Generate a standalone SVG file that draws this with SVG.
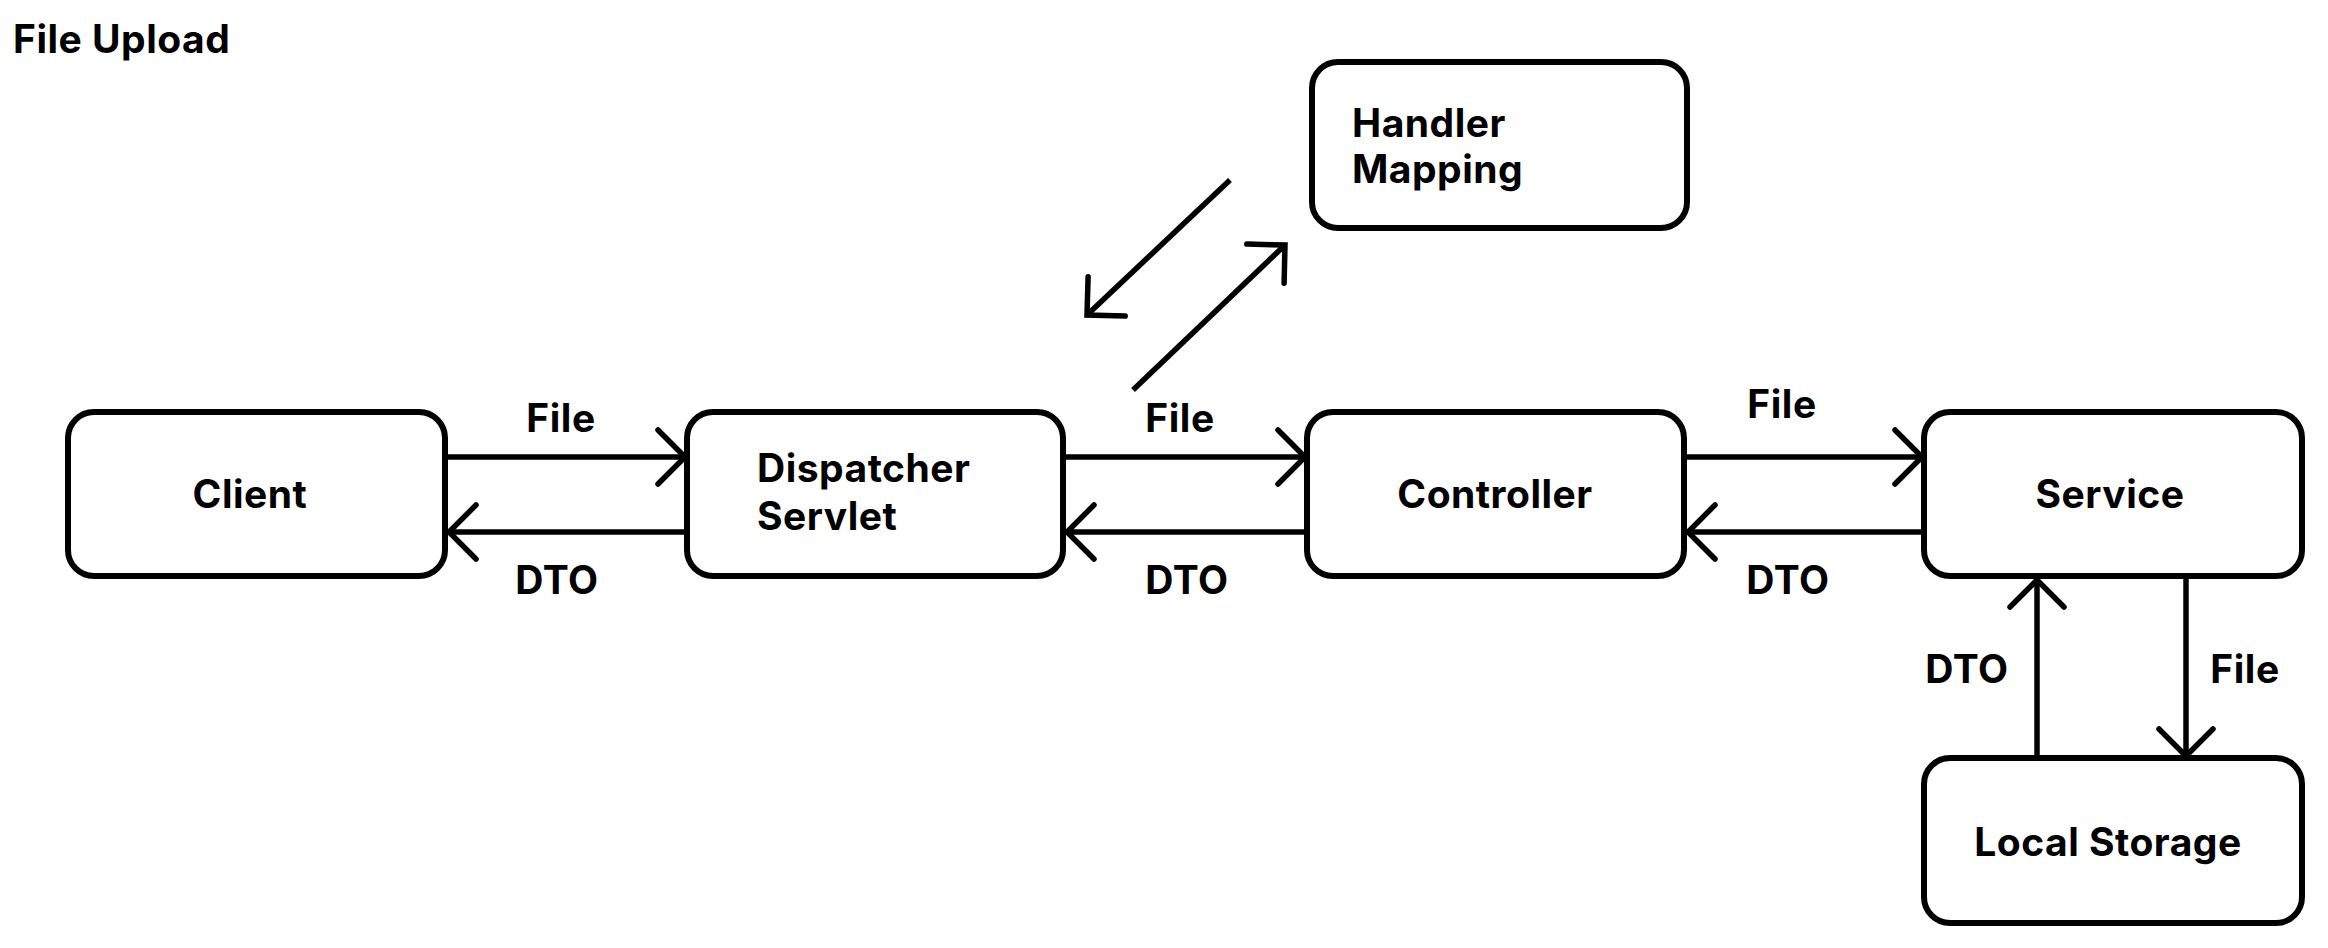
<svg xmlns="http://www.w3.org/2000/svg" width="2328" height="948" viewBox="0 0 2328 948">
  <style>
    .box { fill: #fff; stroke: #000; stroke-width: 6; }
    .lbl { font-family: Inter, "Liberation Sans", sans-serif; font-weight: 700; font-size: 39px; letter-spacing: 0.5px; fill: #000; }
    .mid { text-anchor: middle; }
    .edge { fill: none; stroke: #000; stroke-width: 5.5; marker-end: url(#chev); }
  </style>
  <defs>
    <marker id="chev" markerUnits="userSpaceOnUse" viewBox="-34 -34 40 68" markerWidth="40" markerHeight="68" refX="0" refY="0" orient="auto" overflow="visible">
      <path d="M-27,-27 L0,0 L-27,27" fill="none" stroke="#000" stroke-width="5.5" stroke-linecap="round" stroke-linejoin="miter"/>
    </marker>
  </defs>

  <rect width="2328" height="948" fill="#fff"/>

  <text class="lbl" x="13" y="53">File Upload</text>

  <g id="client">
    <rect class="box" x="68" y="412" width="377" height="164" rx="26"/>
    <text class="lbl mid" x="250" y="508">Client</text>
  </g>

  <g id="dispatcher-servlet">
    <rect class="box" x="687" y="412" width="376" height="164" rx="26"/>
    <text class="lbl" x="757" y="482">Dispatcher</text>
    <text class="lbl" x="757" y="530">Servlet</text>
  </g>

  <g id="handler-mapping">
    <rect class="box" x="1312" y="62" width="375" height="166" rx="26"/>
    <text class="lbl" x="1352" y="137">Handler</text>
    <text class="lbl" x="1352" y="183">Mapping</text>
  </g>

  <g id="controller">
    <rect class="box" x="1307" y="412" width="377" height="164" rx="26"/>
    <text class="lbl mid" x="1495" y="508">Controller</text>
  </g>

  <g id="service">
    <rect class="box" x="1924" y="412" width="378" height="164" rx="26"/>
    <text class="lbl mid" x="2110" y="508">Service</text>
  </g>

  <g id="local-storage">
    <rect class="box" x="1924" y="758" width="378" height="165" rx="26"/>
    <text class="lbl mid" x="2108" y="856">Local Storage</text>
  </g>

  <g id="connectors">
    <!-- request path -->
    <line class="edge" x1="445" y1="457" x2="685" y2="457"/>
    <line class="edge" x1="1063" y1="457" x2="1305" y2="457"/>
    <line class="edge" x1="1684" y1="457" x2="1922" y2="457"/>
    <line class="edge" x1="2186" y1="578" x2="2186" y2="756"/>
    <!-- response path -->
    <line class="edge" x1="687" y1="532" x2="449" y2="532"/>
    <line class="edge" x1="1307" y1="532" x2="1067" y2="532"/>
    <line class="edge" x1="1924" y1="532" x2="1688" y2="532"/>
    <line class="edge" x1="2037" y1="758" x2="2037" y2="580"/>
    <!-- handler lookup -->
    <line class="edge" x1="1133" y1="390" x2="1285" y2="245"/>
    <line class="edge" x1="1230" y1="180" x2="1087" y2="315"/>

    <text class="lbl mid" x="561" y="432">File</text>
    <text class="lbl mid" x="557" y="594">DTO</text>
    <text class="lbl mid" x="1180" y="432">File</text>
    <text class="lbl mid" x="1187" y="594">DTO</text>
    <text class="lbl mid" x="1782" y="418">File</text>
    <text class="lbl mid" x="1788" y="594">DTO</text>
    <text class="lbl mid" x="1967" y="683">DTO</text>
    <text class="lbl mid" x="2245" y="683">File</text>
  </g>
</svg>
